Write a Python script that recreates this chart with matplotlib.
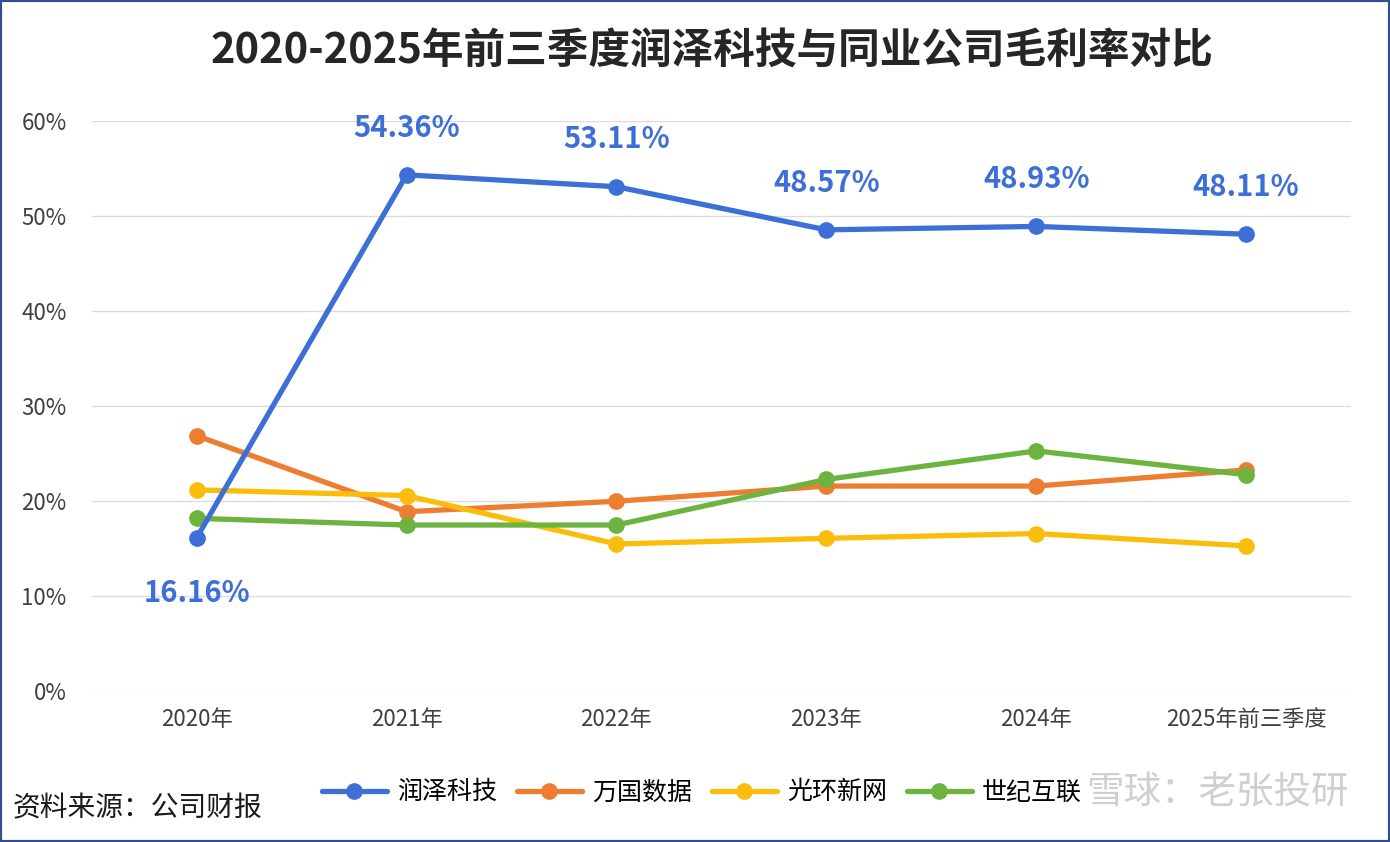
import matplotlib.pyplot as plt
from matplotlib.patches import Rectangle

plt.rcParams['font.family'] = ['Noto Sans CJK SC', 'DejaVu Sans']

years = ['2020年', '2021年', '2022年', '2023年', '2024年', '2025年前三季度']
runze = [16.16, 54.36, 53.11, 48.57, 48.93, 48.11]
wanguo = [26.9, 18.9, 20.0, 21.6, 21.6, 23.3]
guanghuan = [21.2, 20.6, 15.5, 16.1, 16.6, 15.3]
shiji = [18.2, 17.5, 17.5, 22.3, 25.3, 22.8]
names = ['润泽科技', '万国数据', '光环新网', '世纪互联']
colors = ['#3d6fd6', '#ed7d31', '#fbbd0c', '#6cb33f']

fig = plt.figure(figsize=(13.9, 8.42), dpi=100)
ax = fig.add_axes([0.066, 0.179, 0.906, 0.677])

x = list(range(len(years)))
series = [runze, wanguo, guanghuan, shiji]
zorders = [6, 3, 4, 5]
for vals, name, c, z in zip(series, names, colors, zorders):
    ax.plot(x, vals, color=c, lw=3.8, marker='o', ms=11, label=name, zorder=z,
            solid_capstyle='round')

for i, v in enumerate(runze):
    dy = -40 if i == 0 else 34
    ax.annotate(f'{v:.2f}%', (i, v), xytext=(0, dy), textcoords='offset points',
                ha='center', va='center', fontsize=21, fontweight='bold',
                color='#3d6fd6')

ax.set_xlim(-0.5, 5.5)
ax.set_ylim(0, 60)
ax.set_yticks(range(0, 61, 10))
ax.set_yticklabels([f'{t}%' for t in range(0, 61, 10)])
ax.set_xticks(x)
ax.set_xticklabels(years)
ax.grid(axis='y', color='#dcdcdc', lw=1)
ax.set_axisbelow(True)
for s in ax.spines.values():
    s.set_visible(False)
ax.tick_params(axis='both', length=0, labelsize=16, colors='#404040')
ax.tick_params(axis='y', pad=18)
ax.tick_params(axis='x', pad=12)

fig.text(0.512, 0.94, '2020-2025年前三季度润泽科技与同业公司毛利率对比',
         ha='center', va='center', fontsize=30, fontweight='bold', color='#262626')

fig.legend(loc='center', bbox_to_anchor=(0.505, 0.059), ncol=4, frameon=False,
           fontsize=18, handlelength=2.6, columnspacing=0.8, handletextpad=0.4)

fig.text(0.009, 0.04, '资料来源：公司财报', ha='left', va='center', fontsize=20,
         color='#1a1a1a')
fig.text(0.97, 0.058, '雪球：老张投研', ha='right', va='center', fontsize=27,
         color='#bbbbbb', alpha=0.7)

fig.patches.append(Rectangle((0, 0), 1, 1, transform=fig.transFigure, fill=False,
                             edgecolor='#2f4f8f', lw=3))

fig.savefig('out.png', dpi=100)
